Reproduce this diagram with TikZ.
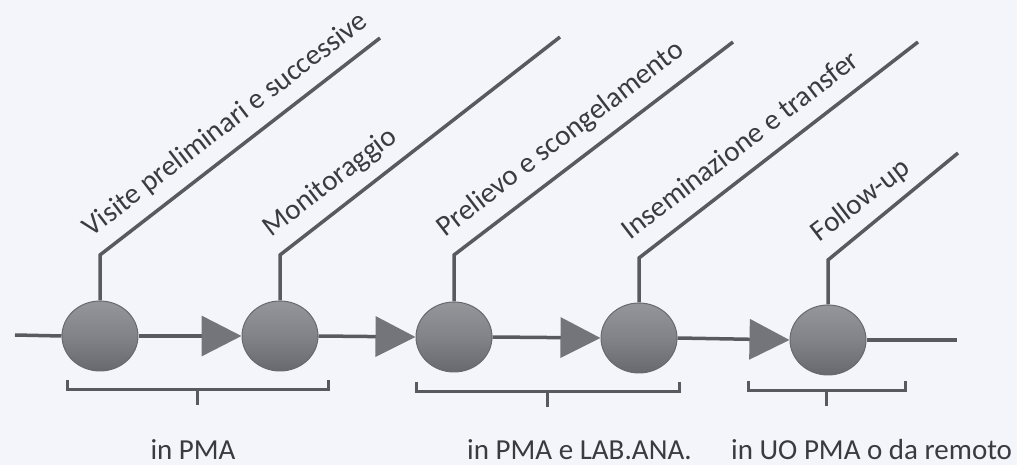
\documentclass[tikz,border=0pt]{standalone}
\usepackage{fontspec}
\setmainfont{Carlito}
\usetikzlibrary{arrows.meta,shapes.geometric,calc}
\definecolor{bgc}{RGB}{244,245,250}
\definecolor{linec}{RGB}{88,90,96}
\definecolor{circf}{RGB}{130,131,136}
\definecolor{circd}{RGB}{104,105,110}
\definecolor{trif}{RGB}{116,117,122}
\definecolor{txtc}{RGB}{58,58,64}
\tikzset{
  stage/.style={ellipse, minimum width=76pt, minimum height=70pt, inner sep=0pt,
    draw=circd, line width=1pt, top color=circf!85!white, bottom color=circd, middle color=circf},
  flow/.style={draw=linec, line width=3.5pt},
  flowarrow/.style={flow, -{Triangle[length=40pt,width=40pt,fill=trif,color=trif]}},
  stem/.style={draw=linec, line width=3.5pt, line join=miter},
  brk/.style={draw=linec, line width=3pt},
  lbl/.style={text=txtc, font=\fontsize{29pt}{35pt}\selectfont, inner sep=0pt, rotate=37.5, anchor=base west},
  blbl/.style={text=txtc, font=\fontsize{29pt}{35pt}\selectfont, inner sep=0pt, anchor=base}
}
\begin{document}
\begin{tikzpicture}[x=1pt,y=1pt]
\fill[bgc] (0,0) rectangle (1017,465);
\useasboundingbox (0,0) rectangle (1017,465);
% main flow
\coordinate (start) at (15,130);
\coordinate (stop) at (957,125);
\node[stage] (c1) at (100,129) {};
\node[stage] (c2) at (280,129) {};
\node[stage] (c3) at (454,128) {};
\node[stage] (c4) at (639,127) {};
\node[stage] (c5) at (828,125) {};
\draw[flow] (start) -- (c1.west);
\draw[flowarrow] (c1.east) -- (c2.west);
\draw[flowarrow] (c2.east) -- (c3.west);
\draw[flowarrow] (c3.east) -- (c4.west);
\draw[flowarrow] (c4.east) -- (c5.west);
\draw[flow] (c5.east) -- (stop);
% stems and leaders
\coordinate (e1) at (100,210); \coordinate (t1) at (380,427);
\coordinate (e2) at (280,210); \coordinate (t2) at (560,428);
\coordinate (e3) at (454,210); \coordinate (t3) at (733,423);
\coordinate (e4) at (639,207); \coordinate (t4) at (918,423);
\coordinate (e5) at (828,205); \coordinate (t5) at (958,312);
\draw[stem] (c1.north) -- (e1) -- (t1);
\draw[stem] (c2.north) -- (e2) -- (t2);
\draw[stem] (c3.north) -- (e3) -- (t3);
\draw[stem] (c4.north) -- (e4) -- (t4);
\draw[stem] (c5.north) -- (e5) -- (t5);
\node[lbl] (l1) at ($(e1)+(127.5:19)+(37.5:4)$) {Visite preliminari e successive};
\node[lbl] (l2) at ($(e2)+(127.5:19)+(37.5:4)$) {Monitoraggio};
\node[lbl] (l3) at ($(e3)+(127.5:19)+(37.5:4)$) {Prelievo e scongelamento};
\node[lbl] (l4) at ($(e4)+(127.5:19)+(37.5:4)$) {Inseminazione e transfer};
\node[lbl] (l5) at ($(e5)+(127.5:19)+(37.5:4)$) {Follow-up};
% brackets
\draw[brk] (67,85) -- (67,75) -- (328,75) -- (328,85);
\draw[brk] (197,75) -- (197,60);
\draw[brk] (416,83) -- (416,73) -- (679,73) -- (679,83);
\draw[brk] (547,73) -- (547,58);
\draw[brk] (748,84) -- (748,74) -- (905,74) -- (905,84);
\draw[brk] (826,74) -- (826,59);
\node[blbl] (b1) at (193,5) {in PMA};
\node[blbl, anchor=base west] (b2) at (467,5) {in PMA e LAB.ANA.};
\node[blbl, anchor=base west] (b3) at (731,5) {in UO PMA o da remoto};
\end{tikzpicture}
\end{document}
